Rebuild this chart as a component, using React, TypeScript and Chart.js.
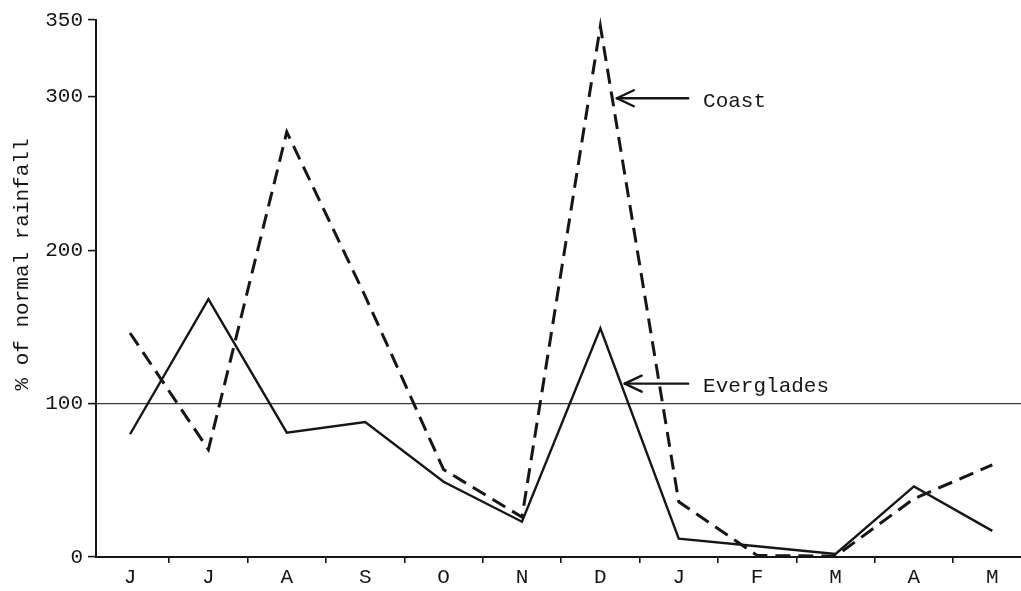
import React, { useEffect, useRef } from 'react';
import { Chart, registerables } from 'chart.js';

Chart.register(...registerables);

const months = ['J', 'J', 'A', 'S', 'O', 'N', 'D', 'J', 'F', 'M', 'A', 'M'];
const everglades = [80, 168, 81, 88, 49, 23, 149, 12, 7, 2, 46, 17];
const coast = [146, 70, 277, 170, 57, 26, 346, 36, 1, 0.5, 38, 60];
const yTicks = [0, 100, 200, 300, 350];
const referenceLine = 100;
const yTitle = '% of normal rainfall';
// annotation labels: [text, arrow tip x (category units), arrow tail x, text x, y value]
const annotations: [string, number, number, number, number][] = [
  ['Coast', 6.21, 7.12, 7.31, 299],
  ['Everglades', 6.31, 7.12, 7.31, 113],
];

export default function App() {
  const ref = useRef<HTMLCanvasElement>(null);

  useEffect(() => {
    document.body.style.margin = '0';
    document.body.style.overflow = 'hidden';
    const ink = '#161616';
    const family = "'Liberation Mono', 'DejaVu Sans Mono', monospace";

    const annot = {
      id: 'annot',
      afterDatasetsDraw(chart: any) {
        const { ctx, scales } = chart;
        const xs = scales.x;
        const ys = scales.y;
        ctx.save();
        ctx.strokeStyle = ink;
        ctx.fillStyle = ink;
        ctx.lineWidth = 2.4;
        ctx.lineCap = 'round';
        ctx.lineJoin = 'round';
        ctx.font = `21px ${family}`;
        ctx.textBaseline = 'middle';
        ctx.textAlign = 'left';
        for (const [text, tip, tail, tx, yv] of annotations) {
          const y = ys.getPixelForValue(yv);
          const x1 = xs.getPixelForValue(tail);
          const x2 = xs.getPixelForValue(tip);
          ctx.beginPath();
          ctx.moveTo(x1, y);
          ctx.lineTo(x2, y);
          ctx.stroke();
          ctx.beginPath();
          ctx.moveTo(x2 + 17, y - 8);
          ctx.lineTo(x2, y);
          ctx.lineTo(x2 + 17, y + 8);
          ctx.stroke();
          ctx.fillText(text, xs.getPixelForValue(tx), y + 3);
        }
        // y axis title
        ctx.save();
        ctx.translate(22, (ys.top + ys.bottom) / 2 - 24);
        ctx.rotate(-Math.PI / 2);
        ctx.textAlign = 'center';
        ctx.textBaseline = 'middle';
        ctx.fillText(yTitle, 0, 0);
        ctx.restore();
        ctx.restore();
      },
    };

    const chart = new Chart(ref.current as HTMLCanvasElement, {
      type: 'line',
      data: {
        datasets: [
          {
            label: 'Everglades',
            data: everglades.map((y, i) => ({ x: i, y })),
            borderColor: ink,
            borderWidth: 2.4,
            pointRadius: 0,
            tension: 0,
            fill: false,
            clip: 6,
          },
          {
            label: 'Coast',
            data: coast.map((y, i) => ({ x: i, y })),
            borderColor: ink,
            borderWidth: 3,
            borderDash: [15, 8],
            pointRadius: 0,
            tension: 0,
            fill: false,
            clip: 6,
          },
        ],
      },
      options: {
        animation: false,
        responsive: false,
        layout: { padding: { top: 20, left: 0, right: 0, bottom: 0 }, autoPadding: false },
        plugins: {
          legend: { display: false },
          tooltip: { enabled: false },
        },
        scales: {
          x: {
            type: 'linear',
            min: -0.434,
            max: 11.366,
            afterBuildTicks: (s: any) => {
              s.ticks = months.map((_, i) => ({ value: i }));
            },
            afterFit: (s: any) => {
              s.height = 34;
            },
            ticks: {
              callback: (v: any) => months[v as number],
              font: { family, size: 21 },
              color: ink,
              padding: 2,
              autoSkip: false,
              maxRotation: 0,
            },
            grid: {
              offset: true,
              drawOnChartArea: false,
              tickLength: 6,
              color: ink,
              lineWidth: 1.6,
            },
            border: { color: ink, width: 2 },
          },
          y: {
            min: 0,
            max: 350,
            afterBuildTicks: (s: any) => {
              s.ticks = yTicks.map((v) => ({ value: v }));
            },
            afterFit: (s: any) => {
              s.width = 96;
            },
            ticks: {
              font: { family, size: 21 },
              color: ink,
              padding: 5,
            },
            grid: {
              color: (c: any) => (c.tick && c.tick.value === referenceLine ? '#3a3a3a' : 'rgba(0,0,0,0)'),
              lineWidth: 1.2,
              tickColor: ink,
              tickWidth: 1.6,
              tickLength: 8,
            },
            border: { color: ink, width: 2 },
          },
        },
      },
      plugins: [annot],
    } as any);

    return () => chart.destroy();
  }, []);

  return (
    <div style={{ position: 'fixed', left: 0, top: 0, width: 1021, height: 591, background: '#fff' }}>
      <canvas ref={ref} width={1021} height={591} style={{ display: 'block' }} />
    </div>
  );
}
